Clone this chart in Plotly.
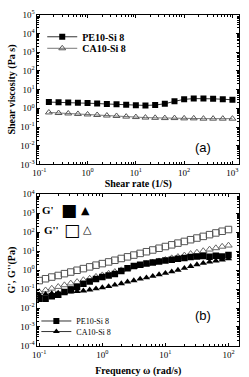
import plotly.graph_objects as go
import numpy as np

# ---------- panel (a): shear viscosity ----------
shear_rate = [0.158, 0.251, 0.398, 0.631, 1.0, 1.58, 2.51, 3.98, 6.31, 10.0,
              15.8, 25.1, 39.8, 63.1, 100.0, 158, 251, 398, 631, 1000]
visc_pe = [2.15, 2.1, 2.05, 2.0, 1.9, 1.8, 1.7, 1.65, 1.55, 1.45,
           1.42, 1.5, 1.75, 2.35, 3.0, 3.3, 3.35, 3.2, 3.05, 2.85]
visc_ca = [0.6, 0.56, 0.53, 0.5, 0.47, 0.44, 0.41, 0.39, 0.36, 0.34,
           0.32, 0.31, 0.3, 0.3, 0.29, 0.29, 0.28, 0.28, 0.28, 0.28]

# ---------- panel (b): G', G'' ----------
freq = [0.1, 0.126, 0.158, 0.2, 0.251, 0.316, 0.398, 0.501, 0.631, 0.794,
        1.0, 1.26, 1.58, 2.0, 2.51, 3.16, 3.98, 5.01, 6.31, 7.94,
        10.0, 12.6, 15.8, 20.0, 25.1, 31.6, 39.8, 50.1, 63.1, 79.4, 100.0]
g2_pe = [0.28, 0.35, 0.43, 0.52, 0.65, 0.79, 0.98, 1.2, 1.48, 1.82,
         2.2, 2.7, 3.3, 4.1, 5.0, 6.2, 7.6, 9.3, 11.5, 14.2,
         17.5, 21.5, 26.5, 32.5, 40, 49, 60, 74, 91, 112, 138]
g2_ca = [0.071, 0.087, 0.107, 0.132, 0.162, 0.2, 0.24, 0.3, 0.36, 0.45,
         0.54, 0.66, 0.81, 1.0, 1.23, 1.48, 1.78, 2.1, 2.5, 2.95,
         3.5, 4.3, 5.0, 6.0, 7.2, 8.5, 10.2, 12.3, 14.5, 17.4, 20.0]
g1_pe = [0.031, 0.031, 0.042, 0.05, 0.069, 0.095, 0.13, 0.19, 0.25, 0.34,
         0.43, 0.52, 0.63, 0.89, 1.26, 1.66, 1.9, 2.2, 2.5, 2.8,
         3.2, 3.5, 4.0, 4.4, 4.9, 5.2, 5.5, 5.0, 5.7, 5.2, 6.2]
g1_pe_err = [0, 0, 0, 0, 0, 0.03, 0.03, 0.05, 0, 0,
             0, 0, 0, 0, 0, 0, 0, 0, 0, 0,
             0, 0, 0, 0, 0, 0, 1.3, 1.2, 1.4, 1.3, 1.5]
g1_ca = [0.05, 0.054, 0.058, 0.062, 0.066, 0.071, 0.076, 0.081, 0.091, 0.105,
         0.12, 0.138, 0.166, 0.195, 0.24, 0.28, 0.34, 0.4, 0.48, 0.58,
         0.69, 0.83, 1.0, 1.26, 1.58, 1.95, 2.3, 2.7, 3.1, 3.5, 4.0]

series_names = ["PE10-Si 8", "CA10-Si 8"]

SERIF = "Liberation Serif"
SANS = "Liberation Sans"
tickfont = dict(family=SERIF, size=9, color="black")
titlefont = dict(family=SERIF, size=10, color="black")

W, H = 249, 377
def px_x(p):
    return p / W
def px_y(p):
    return 1 - p / H

fig = go.Figure()

# panel a
fig.add_trace(go.Scatter(x=shear_rate, y=visc_pe, mode="lines+markers", name="<b>%s</b>" % series_names[0],
                         xaxis="x", yaxis="y", legend="legend",
                         line=dict(color="#333333", width=1),
                         marker=dict(symbol="square", size=6, color="black")))
fig.add_trace(go.Scatter(x=shear_rate, y=visc_ca, mode="lines+markers", name="<b>%s</b>" % series_names[1],
                         xaxis="x", yaxis="y", legend="legend2",
                         line=dict(color="#777777", width=1),
                         marker=dict(symbol="triangle-up-open", size=6, color="#555555",
                                     line=dict(width=1, color="#555555"))))

# panel b
fig.add_trace(go.Scatter(x=freq, y=g2_pe, mode="markers", showlegend=False, xaxis="x2", yaxis="y2",
                         marker=dict(symbol="square-open", size=6.5, color="#555555",
                                     line=dict(width=1, color="#555555"))))
fig.add_trace(go.Scatter(x=freq, y=g2_ca, mode="markers", showlegend=False, xaxis="x2", yaxis="y2",
                         marker=dict(symbol="triangle-up-open", size=6.5, color="#666666",
                                     line=dict(width=1, color="#666666"))))
fig.add_trace(go.Scatter(x=freq, y=g1_pe, mode="markers", showlegend=False, xaxis="x2", yaxis="y2",
                         error_y=dict(type="data", array=g1_pe_err, color="black", thickness=1.5, width=2),
                         marker=dict(symbol="square", size=6.5, color="black")))
fig.add_trace(go.Scatter(x=freq, y=g1_ca, mode="markers", showlegend=False, xaxis="x2", yaxis="y2",
                         marker=dict(symbol="triangle-up", size=6.5, color="black")))
# legend entries for panel b
fig.add_trace(go.Scatter(x=[None], y=[None], mode="lines+markers", name=series_names[0],
                         xaxis="x2", yaxis="y2", legend="legend3",
                         line=dict(color="#333333", width=1),
                         marker=dict(symbol="square", size=6, color="black")))
fig.add_trace(go.Scatter(x=[None], y=[None], mode="lines+markers", name=series_names[1],
                         xaxis="x2", yaxis="y2", legend="legend4",
                         line=dict(color="#333333", width=1),
                         marker=dict(symbol="triangle-up", size=6, color="black")))

def minor_vals(lo, hi):
    return [m * 10.0 ** d for d in range(lo, hi) for m in range(2, 10)]

def sup(p):
    return "10<sup>%s</sup>" % (str(p) if p >= 0 else "-" + str(-p))

def logaxis(rng, dom, anchor, title, decs, standoff):
    return dict(type="log", range=rng, domain=dom, anchor=anchor,
                showline=True, linecolor="black", linewidth=1, mirror="allticks",
                ticks="inside", ticklen=3, tickcolor="black",
                tickmode="array", tickvals=[10.0 ** d for d in decs], ticktext=[sup(d) for d in decs],
                minor=dict(ticks="inside", ticklen=2, tickcolor="black", tickmode="array",
                           tickvals=minor_vals(decs[0] - 1, decs[-1] + 1), showgrid=False),
                showgrid=False, zeroline=False, tickfont=tickfont,
                title=dict(text="<b>%s</b>" % title, font=titlefont, standoff=standoff))

def leg(xp, yp, size):
    return dict(x=px_x(xp), y=px_y(yp), xanchor="left", yanchor="middle", bgcolor="rgba(0,0,0,0)",
                font=dict(family=SERIF, size=size, color="black"), itemwidth=30,
                tracegroupgap=0)

fig.update_layout(
    width=W, height=H, margin=dict(l=0, r=0, t=0, b=0),
    paper_bgcolor="white", plot_bgcolor="white",
    xaxis=logaxis([-1.04, 3.14], [px_x(33), px_x(239)], "y", "Shear rate (1/S)", list(range(-1, 4)), 2),
    yaxis=logaxis([-3, 5], [px_y(164), px_y(8)], "x", "Shear viscosity (Pa s)", list(range(-3, 6)), 2),
    xaxis2=logaxis([-1.03, 2.17], [px_x(33), px_x(239)], "y2", "Frequency \u03c9 (rad/s)", list(range(-1, 3)), 10),
    yaxis2=logaxis([-4, 4], [px_y(353), px_y(195)], "x2", "G', G''(Pa)", list(range(-4, 5)), 2),
    legend=leg(38, 31, 10),
    legend2=leg(38, 43, 10),
    legend3=leg(32, 327, 8),
    legend4=leg(32, 338, 8),
    showlegend=True,
)

ann = [
    dict(text="(a)", x=px_x(212), y=px_y(146)),
    dict(text="(b)", x=px_x(212), y=px_y(331)),
]
for a in ann:
    fig.add_annotation(xref="paper", yref="paper", x=a["x"], y=a["y"], text=a["text"], showarrow=False,
                       font=dict(family=SANS, size=13, color="black"))

labels_b = [("<b>G'</b>", 44, 211, 11, SERIF), ("\u25a0", 65.5, 211, 17, "DejaVu Sans"), ("\u25b2", 82, 212, 11, "DejaVu Sans"),
            ("<b>G''</b>", 47, 232, 11, SERIF), ("\u25a1", 68, 232, 17, "DejaVu Sans"), ("\u25b3", 84, 232, 11, "DejaVu Sans")]
for t, x, y, s, f in labels_b:
    fig.add_annotation(xref="paper", yref="paper", x=px_x(x), y=px_y(y), text=t, showarrow=False,
                       xanchor="center", yanchor="middle",
                       font=dict(family=f, size=s, color="black"))

fig.write_html("out.html")
